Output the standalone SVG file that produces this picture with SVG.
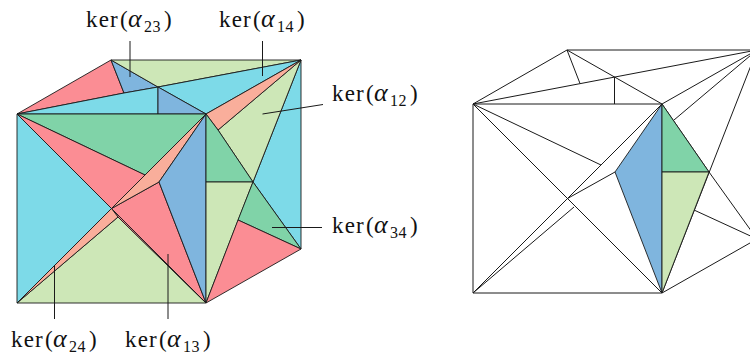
<svg xmlns="http://www.w3.org/2000/svg" width="750" height="356" viewBox="0 0 750 356">
<style>
.f{stroke:#1a1a1a;stroke-width:.9;stroke-linejoin:round}
.cy{fill:#7ddae8}.lg{fill:#cde7b7}.gr{fill:#80d3a8}.bl{fill:#7fb5de}.re{fill:#fb8d94}.sa{fill:#f9ae9b}
.e{stroke:#1a1a1a;stroke-width:1;fill:none}
.l{stroke:#1a1a1a;stroke-width:1;fill:none}
text{font-family:"Liberation Serif","Times New Roman",serif;font-size:23px;fill:#111}
.k{letter-spacing:1.2px}
.a{font-style:italic;font-size:26px}
.s{font-size:16px;letter-spacing:.6px}
</style>
<g id="cube-left">
<polygon class="f re" points="17,114 111,60 124,93"/>
<polygon class="f bl" points="111,60 158,87 124,93"/>
<polygon class="f lg" points="111,60 301,60 158,87"/>
<polygon class="f cy" points="17,114 124,93 158,87 158,114"/>
<polygon class="f cy" points="158,87 301,60 206,114"/>
<polygon class="f bl" points="158,87 206,114 158,114"/>
<polygon class="f gr" points="17,114 206,114 145,175"/>
<polygon class="f cy" points="17,114 111.5,208.5 17,303"/>
<polygon class="f re" points="17,114 145,175 111.5,208.5"/>
<polygon class="f re" points="111.5,208.5 159,182 206,303"/>
<polygon class="f lg" points="17,303 118,217 206,303"/>
<polygon class="f re" points="111.5,208.5 118,217 206,303"/>
<polygon class="f sa" points="206,114 111.5,208.5 159,182"/>
<polygon class="f sa" points="111.5,208.5 17,303 118,217"/>
<polygon class="f bl" points="206,114 159,182 206,303"/>
<polygon class="f cy" points="301,60 301,249 253,182"/>
<polygon class="f lg" points="301,60 218,130 253,182"/>
<polygon class="f sa" points="206,114 301,60 218,130"/>
<polygon class="f gr" points="206,114 218,130 253,182 206,182"/>
<polygon class="f lg" points="206,182 253,182 206,303"/>
<polygon class="f gr" points="253,182 301,249 238,220"/>
<polygon class="f re" points="238,220 301,249 206,303"/>
</g>
<g id="connectors">
<path class="l" d="M130 41V77M262.500 41V76M262.500 114L323 104.500M272 227.500H322M54.500 265V319M168 254V319"/>
<path class="e" d="M473 104H662V293H473ZM473 104L567 50H757M757 50V239L662 293M567 50L662 104M473 104L757 50M567 50L580 83.500M614.500 77V104M662 104L757 50M674 120L757 50M662 104L709 172M757 50L662 293M709 172L757 239M694 210L757 239M473 104L601 165M473 104L662 293M473 293L662 104M473 293L574 207M567.500 198.500L615 172"/>
</g>
<g id="faces-right">
<polygon class="f bl" points="662,104 615,172 662,293"/>
<polygon class="f gr" points="662,104 709,172 662,172"/>
<polygon class="f lg" points="662,172 709,172 662,293"/>
</g>
<g id="label-23"><text y="27"><tspan class="k" x="86">ker</tspan><tspan x="120">(</tspan><tspan class="a" x="128">α</tspan><tspan class="s" x="144" dy="5">23</tspan><tspan x="164" dy="-5">)</tspan></text></g>
<g id="label-14"><text y="27"><tspan class="k" x="219">ker</tspan><tspan x="253">(</tspan><tspan class="a" x="261">α</tspan><tspan class="s" x="277" dy="5">14</tspan><tspan x="297" dy="-5">)</tspan></text></g>
<g id="label-12"><text y="101"><tspan class="k" x="332">ker</tspan><tspan x="366">(</tspan><tspan class="a" x="374">α</tspan><tspan class="s" x="390" dy="5">12</tspan><tspan x="410" dy="-5">)</tspan></text></g>
<g id="label-34"><text y="233"><tspan class="k" x="332">ker</tspan><tspan x="366">(</tspan><tspan class="a" x="374">α</tspan><tspan class="s" x="390" dy="5">34</tspan><tspan x="410" dy="-5">)</tspan></text></g>
<g id="label-24"><text y="347"><tspan class="k" x="11">ker</tspan><tspan x="45">(</tspan><tspan class="a" x="53">α</tspan><tspan class="s" x="69" dy="5">24</tspan><tspan x="89" dy="-5">)</tspan></text></g>
<g id="label-13"><text y="347"><tspan class="k" x="125">ker</tspan><tspan x="159">(</tspan><tspan class="a" x="167">α</tspan><tspan class="s" x="183" dy="5">13</tspan><tspan x="203" dy="-5">)</tspan></text></g>
</svg>
